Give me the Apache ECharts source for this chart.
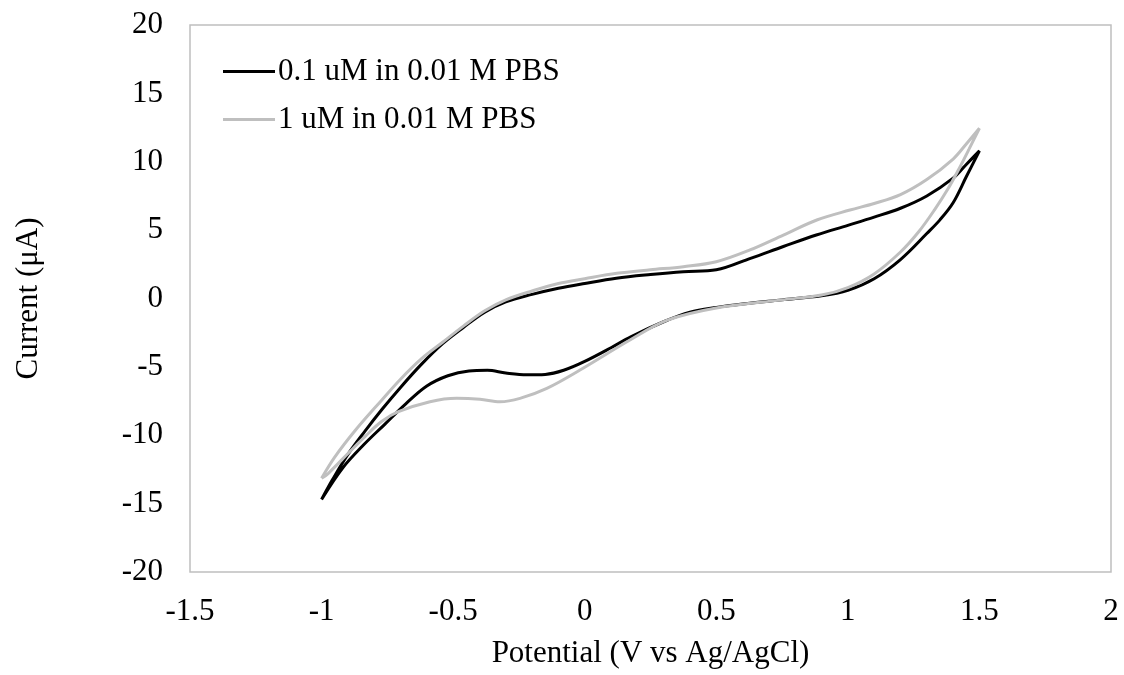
<!DOCTYPE html>
<html>
<head>
<meta charset="utf-8">
<title>CV</title>
<script src="https://cdn.jsdelivr.net/npm/echarts@6/dist/echarts.min.js"></script>
<style>
    html, body { margin: 0; padding: 0; background: #fff; }
    #chart { width: 1124px; height: 675px; }
</style>
</head>
<body>
<div id="chart"></div>
<script>
// 0.1 uM: forward sweep (-1 -> 1.5) then reverse (1.5 -> -1)
var lowX = [-1.0, -0.96, -0.9, -0.835, -0.77, -0.7, -0.62, -0.54, -0.46, -0.38, -0.3, -0.2, -0.1, 0, 0.12, 0.25, 0.375, 0.5, 0.63, 0.755, 0.88, 1.0, 1.1, 1.2, 1.3, 1.4, 1.45, 1.5,
    1.45, 1.4, 1.35, 1.3, 1.2, 1.1, 1.0, 0.9, 0.75, 0.6, 0.5, 0.4, 0.3, 0.175, 0.1, 0.0, -0.08, -0.15, -0.22, -0.3, -0.37, -0.44, -0.52, -0.6, -0.68, -0.76, -0.84, -0.92, -1.0];
var lowY = [-14.7, -13.3, -11.4, -9.7, -8.1, -6.5, -4.8, -3.3, -2.1, -1.0, -0.25, 0.3, 0.75, 1.1, 1.48, 1.75, 1.96, 2.1, 2.94, 3.8, 4.64, 5.35, 5.95, 6.6, 7.5, 8.8, 9.8, 10.8,
    8.9, 7.0, 5.75, 4.75, 2.85, 1.45, 0.6, 0.2, -0.1, -0.4, -0.65, -1.0, -1.7, -2.8, -3.6, -4.6, -5.25, -5.55, -5.58, -5.45, -5.25, -5.3, -5.65, -6.4, -7.7, -9.2, -10.7, -12.4, -14.7];

// 1 uM
var highX = [-1.0, -0.95, -0.87, -0.77, -0.7, -0.62, -0.54, -0.46, -0.38, -0.3, -0.2, -0.1, 0, 0.122, 0.25, 0.375, 0.5, 0.628, 0.755, 0.882, 1.008, 1.1, 1.2, 1.3, 1.4, 1.45, 1.5,
    1.46, 1.42, 1.38, 1.33, 1.27, 1.2, 1.1, 1.0, 0.9, 0.75, 0.5, 0.312, 0.172, -0.018, -0.144, -0.246, -0.322, -0.398, -0.487, -0.588, -0.708, -0.772, -0.835, -0.898, -0.975, -1.0];
var highY = [-13.15, -11.6, -9.6, -7.4, -5.9, -4.4, -3.2, -2.0, -0.9, -0.1, 0.55, 1.1, 1.45, 1.84, 2.1, 2.33, 2.69, 3.55, 4.64, 5.74, 6.47, 6.95, 7.6, 8.7, 10.2, 11.3, 12.45,
    10.9, 9.4, 8.0, 6.5, 4.9, 3.4, 1.8, 0.8, 0.25, -0.1, -0.7, -1.6, -3.03, -5.23, -6.57, -7.3, -7.55, -7.37, -7.3, -7.55, -8.28, -9.0, -10.1, -11.3, -12.8, -13.15];

var seriesNames = ['0.1 uM in 0.01 M PBS', '1 uM in 0.01 M PBS'];

function pairs(xs, ys) {
    var out = [];
    for (var i = 0; i < xs.length; i++) {
        out.push([xs[i], ys[i]]);
    }
    return out;
}

var font = '"Liberation Serif", "Times New Roman", serif';
var chart = echarts.init(document.getElementById('chart'));

chart.setOption({
    animation: false,
    textStyle: { fontFamily: font, color: '#000' },
    grid: {
        left: 190, right: 13, top: 25, bottom: 103,
        show: true, borderColor: '#bfbfbf', borderWidth: 1.5, containLabel: false
    },
    legend: {
        orient: 'vertical',
        left: 218, top: 51,
        itemWidth: 52, itemHeight: 3, itemGap: 17,
        icon: 'rect',
        textStyle: { fontFamily: font, fontSize: 31, color: '#000', padding: [0, 0, 0, -2] },
        data: seriesNames
    },
    xAxis: {
        type: 'value', min: -1.5, max: 2, interval: 0.5,
        name: 'Potential (V vs Ag/AgCl)', nameLocation: 'middle', nameGap: 66,
        nameTextStyle: { fontFamily: font, fontSize: 31, color: '#000' },
        axisLine: { show: false }, axisTick: { show: false }, splitLine: { show: false },
        axisLabel: { fontFamily: font, fontSize: 31, color: '#000', margin: 24 }
    },
    yAxis: {
        type: 'value', min: -20, max: 20, interval: 5,
        name: 'Current (μA)', nameLocation: 'middle', nameGap: 146, nameRotate: 90,
        nameTextStyle: { fontFamily: font, fontSize: 31, color: '#000' },
        axisLine: { show: false }, axisTick: { show: false }, splitLine: { show: false },
        axisLabel: { fontFamily: font, fontSize: 31, color: '#000', margin: 27 }
    },
    series: [
        {
            name: seriesNames[0], type: 'line', data: pairs(lowX, lowY),
            smooth: 0.35, showSymbol: false, symbol: 'none',
            lineStyle: { color: '#000', width: 3 }, itemStyle: { color: '#000' }
        },
        {
            name: seriesNames[1], type: 'line', data: pairs(highX, highY),
            smooth: 0.35, showSymbol: false, symbol: 'none',
            lineStyle: { color: '#bfbfbf', width: 3 }, itemStyle: { color: '#bfbfbf' }
        }
    ]
});
</script>
</body>
</html>
